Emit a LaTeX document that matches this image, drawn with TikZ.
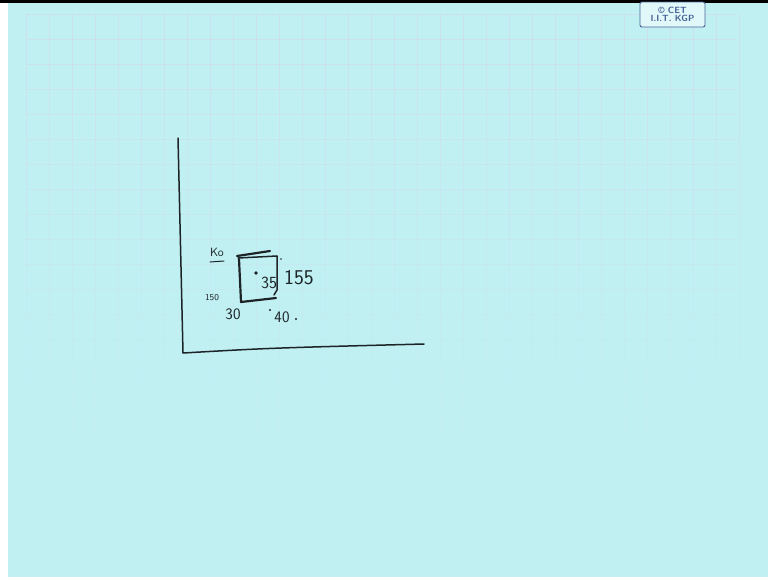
\documentclass[tikz,border=0pt]{standalone}
\usepackage{tikz}
\usepackage{xcolor}
\usetikzlibrary{positioning}
\definecolor{cBoard}{RGB}{193,240,243}
\definecolor{cGrid}{RGB}{214,212,234}
\definecolor{cInk}{RGB}{28,36,40}
\definecolor{cLogo}{RGB}{72,98,150}
\tikzset{
	ink/.style   ={draw=cInk, line width=1.5pt, line cap=round, line join=round},
	boldink/.style={draw=cInk, line width=2.2pt, line cap=round, line join=round},
	thinink/.style={draw=cInk, line width=1pt, line cap=round},
	hand/.style  ={text=cInk, inner sep=0pt, font=\sffamily},
	gridline/.style={draw=cGrid, line width=0.6pt},
	logobox/.style={draw=cLogo, line width=0.9pt, rounded corners=2pt, fill=cBoard!50!white, minimum width=65pt, minimum height=25pt, inner sep=0pt, align=center, text=cLogo, font=\sffamily\bfseries\fontsize{9}{8.5}\selectfont},
}

\begin{document}
\begin{tikzpicture}[x=1pt, y=-1pt]
	\useasboundingbox (0,0) rectangle (768,579);
	\fill[white] (0,0) rectangle (768,579);
	\fill[cBoard] (8,2) rectangle (768,577);
	% faint squared paper, fading downwards
	\foreach \gy [count=\k] in {14,39,...,420} {
		\pgfmathsetmacro\op{max(0.05,0.6-0.035*\k)}
		\draw[gridline, opacity=\op] (26,\gy) -- (736,\gy);
		\foreach \gx in {26,49,...,740} \draw[gridline, opacity=\op] (\gx,\gy) -- (\gx,\gy+25);
	}
	\fill[black] (0,0) rectangle (768,2.5);
	\node[logobox] (logo) at (672.5,14.5) {\copyright\ CET\\I.I.T. KGP};
	% axes
	\coordinate (yTop) at (178,138);
	\coordinate (origin) at (183,353);
	\coordinate (xEnd) at (424,344);
	\draw[ink] (yTop) -- (origin) .. controls (270,348) .. (xEnd);
	% square
	\coordinate (sqTL) at (239,259);
	\coordinate (sqBL) at (241,302);
	\coordinate (sqBR) at (276,298);
	\coordinate (sqTR) at (277,256);
	\draw[boldink] (sqTL) -- (sqBL) -- (sqBR);
	\draw[ink] (sqTR) -- (277,290) -- (274,295);
	\draw[boldink] (237,256) -- (270,251);
	\draw[ink] (238,258) -- (sqTR);
	\fill[cInk] (256,273) circle (1.8);
	\fill[cInk] (281,259) circle (0.8);
	% labels
	\node[hand, font=\sffamily\fontsize{17}{17}\selectfont] (in35) at (269,283) {35};
	\node[hand, font=\sffamily\fontsize{21}{21}\selectfont] (side155) at (299,278) {155};
	\node[hand, font=\sffamily\fontsize{12}{12}\selectfont] (ko) at (217,252) {Ko};
	\draw[thinink] (210,262) -- (224,261);
	\node[hand, font=\sffamily\fontsize{9}{9}\selectfont] (lo150) at (212,298) {150};
	\node[hand, font=\sffamily\fontsize{16}{16}\selectfont] (lo30) at (233,314) {30};
	\node[hand, font=\sffamily\fontsize{16}{16}\selectfont] (lo40) at (282,317) {40};
	\fill[cInk] (270,310) circle (1.1);
	\fill[cInk] (296,319) circle (1.1);
\end{tikzpicture}
\end{document}
